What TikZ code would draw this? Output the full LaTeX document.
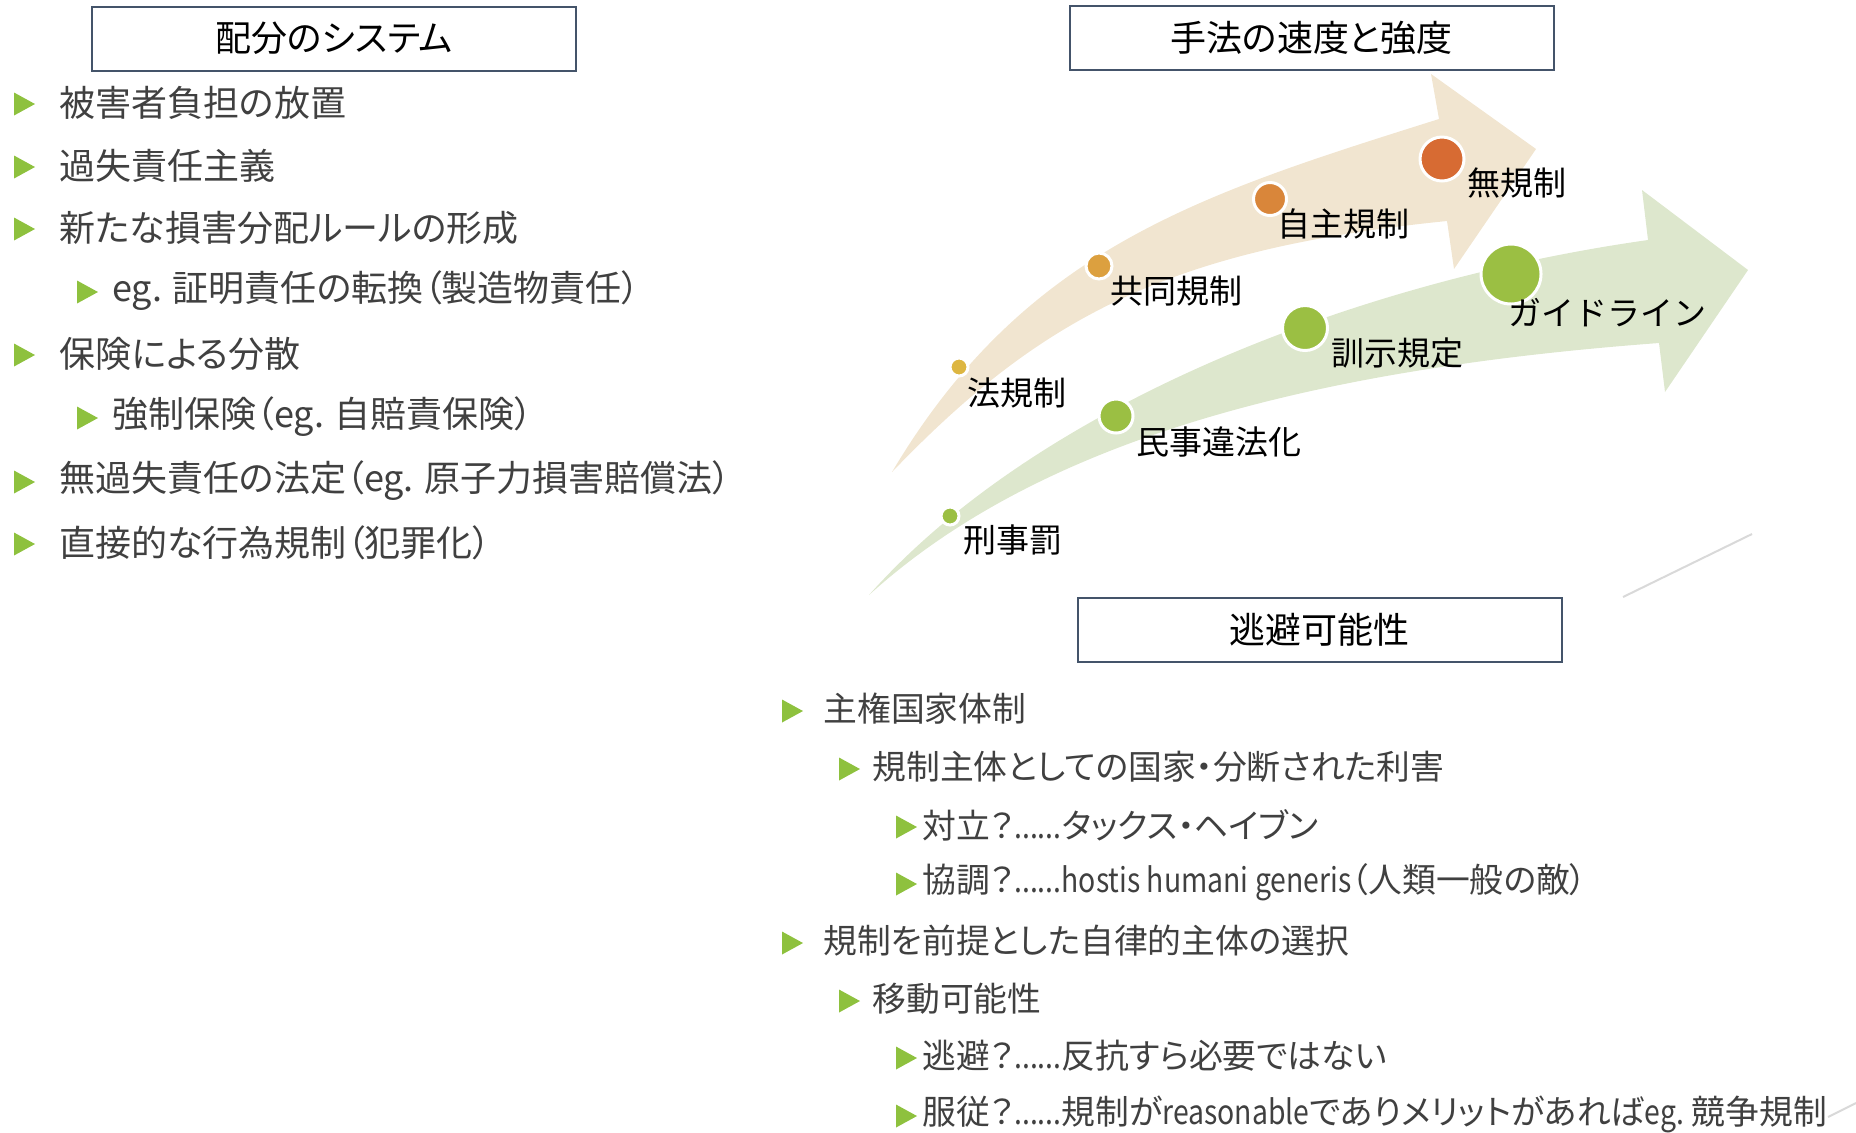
\documentclass[tikz,border=0pt]{standalone}
\usepackage{fontspec}
\setmainfont{Noto Sans CJK JP}[RawFeature=+palt]
\newfontfamily\fullwidth{Noto Sans CJK JP}
\usepackage{tikz}
\definecolor{bulletgreen}{HTML}{8EC13E}
\definecolor{textgray}{HTML}{404040}
\definecolor{boxline}{HTML}{44546A}
\definecolor{tanband}{HTML}{F1E5D0}
\definecolor{greenband}{HTML}{DDE7CD}
\definecolor{dotyellow}{HTML}{DDB641}
\definecolor{dotamber}{HTML}{DCA03F}
\definecolor{dotorange}{HTML}{D9863A}
\definecolor{dotred}{HTML}{D76B33}
\definecolor{dotgreen}{HTML}{9BBF43}
\newcommand{\tri}[2]{\fill[bulletgreen] (#1,#2-11.5) -- (#1+21,#2) -- (#1,#2+11.5) -- cycle;}
\newcommand{\narrow}[1]{\scalebox{0.84}[1]{#1}}

\begin{document}
\begin{tikzpicture}[x=0.5pt, y=-0.5pt,
  titlebox/.style={draw=boxline, line width=1pt, minimum width=242pt, minimum height=32pt, inner sep=0pt, font=\fontsize{18}{22}\selectfont},
  bulletitem/.style={anchor=west, inner sep=0pt, text=textgray, font=\fontsize{18}{22}\selectfont},
  rightitem/.style={bulletitem, font=\fontsize{16.9}{20}\selectfont},
  ball/.style={circle, draw=white, line width=1.5pt, inner sep=0pt},
  lbl/.style={anchor=west, inner sep=0pt, font=\fontsize{16.5}{20}\selectfont}]
\useasboundingbox (0,0) rectangle (1856,1132);
\fill[greenband] (869,595) .. controls (1036,407) and (1351,282) .. (1648,240) -- (1642,190) -- (1748,270) -- (1665,392) -- (1659,343) .. controls (1310,369) and (1040,440) .. cycle;
\fill[tanband] (892,472) .. controls (1025,248) and (1201,194) .. (1439,119) -- (1431,74) -- (1536,149) -- (1454,269) -- (1447,221) .. controls (1168,249) and (1040,318) .. cycle;
\draw[black!15, line width=1pt] (1623,597) -- (1752,534);
\draw[black!15, line width=1pt] (1828,1117) -- (1856,1103);
\node[titlebox] (haibun) at (334,38.5) {配分のシステム};
\node[titlebox] (shuho) at (1311.5,37.5) {手法の速度と強度};
\node[titlebox] (tohi) at (1319.5,630) {逃避可能性};
\tri{14}{104}
\node[bulletitem] (a1) at (59,103) {被害者負担の放置};
\tri{14}{167}
\node[bulletitem] (a2) at (59,166) {過失責任主義};
\tri{14}{229}
\node[bulletitem] (a3) at (59,228) {新たな損害分配ルールの形成};
\tri{77}{292}
\node[bulletitem] (a31) at (112,291) {eg. 証明責任の転換（製造物責任）};
\tri{14}{355}
\node[bulletitem] (a4) at (59,354) {保険による分散};
\tri{77}{418}
\node[bulletitem] (a41) at (112,417) {強制保険（eg. 自賠責保険）};
\tri{14}{482}
\node[bulletitem] (a5) at (59,481) {無過失責任の法定（eg. 原子力損害賠償法）};
\tri{14}{544}
\node[bulletitem] (a6) at (59,543) {直接的な行為規制（犯罪化）};
\node[ball, fill=dotgreen, minimum size=9pt] (g1) at (950,516) {};
\node[ball, fill=dotgreen, minimum size=17pt] (g2) at (1116,416) {};
\node[ball, fill=dotgreen, minimum size=22.5pt] (g3) at (1305,328) {};
\node[ball, fill=dotgreen, minimum size=30pt] (g4) at (1511,274) {};
\node[ball, fill=dotyellow, minimum size=9pt] (t1) at (959,367) {};
\node[ball, fill=dotamber, minimum size=13pt] (t2) at (1099,266) {};
\node[ball, fill=dotorange, minimum size=16.5pt] (t3) at (1270,199) {};
\node[ball, fill=dotred, minimum size=22pt] (t4) at (1442,159) {};
\node[lbl] (l1) at (967,393) {法規制};
\node[lbl] (l2) at (1110,291) {共同規制};
\node[lbl] (l3) at (1277,224) {自主規制};
\node[lbl] (l4) at (1467,183) {無規制};
\node[lbl] (k1) at (963,540) {刑事罰};
\node[lbl] (k2) at (1136,442) {民事違法化};
\node[lbl] (k3) at (1331,353) {訓示規定};
\node[lbl] (k4) at (1508,313) {\fullwidth ガイドライン};
\tri{782}{711}
\node[rightitem] (b1) at (823,709) {主権国家体制};
\tri{839}{769}
\node[rightitem] (b11) at (872,767) {規制主体としての国家・分断された利害};
\tri{896}{827}
\node[rightitem] (b111) at (922,825) {対立？\narrow{......}タックス・ヘイブン};
\tri{896}{884}
\node[rightitem] (b112) at (922,882) {協調？\narrow{......hostis humani generis}（人類一般の敵）};
\tri{782}{943}
\node[rightitem] (b2) at (823,941) {規制を前提とした自律的主体の選択};
\tri{839}{1001}
\node[rightitem] (b21) at (872,999) {移動可能性};
\tri{896}{1058}
\node[rightitem] (b211) at (922,1056) {逃避？\narrow{......}反抗すら必要ではない};
\tri{896}{1116}
\node[rightitem] (b212) at (922,1114) {服従？\narrow{......}規制が\narrow{reasonable}でありメリットがあれば\narrow{eg.} 競争規制};
\end{tikzpicture}
\end{document}
